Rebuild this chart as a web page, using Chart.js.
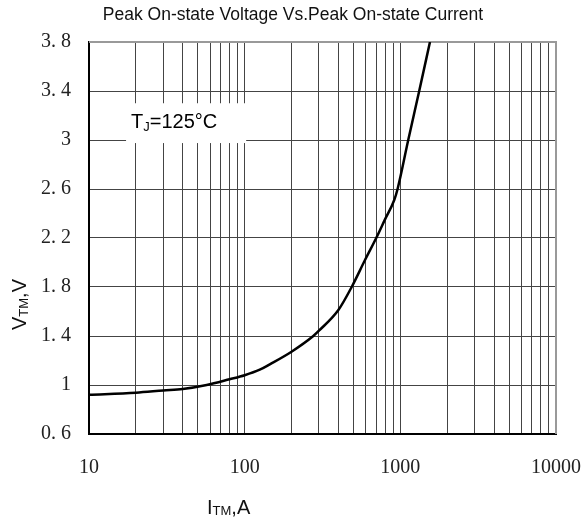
<!DOCTYPE html>
<html>
<head>
<meta charset="utf-8">
<title>Peak On-state Voltage Vs.Peak On-state Current</title>
<script src="https://cdn.jsdelivr.net/npm/chart.js@4.4.1/dist/chart.umd.min.js"></script>
<style>
  html, body { margin: 0; padding: 0; background: #fff; }
  #wrap { width: 586px; height: 517px; position: relative; }
</style>
</head>
<body>
<div id="wrap"><canvas id="myChart"></canvas></div>
<script>
// curve: peak on-state current (A) vs peak on-state voltage (V)
const current = [10, 20, 30, 40, 57, 80, 100, 125, 145, 200, 276, 300, 400, 487, 593, 700, 796, 914, 960, 1124, 1322, 1550];
const voltage = [0.92, 0.937, 0.955, 0.967, 1.0, 1.047, 1.08, 1.125, 1.169, 1.272, 1.4, 1.443, 1.612, 1.8, 2.02, 2.2, 2.35, 2.51, 2.6, 3.0, 3.4, 3.8];

// axis ticks
const xTickLabels = [10, 100, 1000, 10000];
const yTickValues = [0.6, 1, 1.4, 1.8, 2.2, 2.6, 3, 3.4, 3.8];
const yTickLabels = ['0. 6', '1', '1. 4', '1. 8', '2. 2', '2. 6', '3', '3. 4', '3. 8'];

const titleText = 'Peak On-state Voltage Vs.Peak On-state Current';
const tempLabel = ['T', 'J', '=125°C'];
const yTitle = ['V', 'TM', ',V'];
const xTitle = ['I', 'TM', ',A'];

const SANS = '"Liberation Sans", Arial, sans-serif';
const SERIF = '"Liberation Serif", "Times New Roman", serif';

// draws "main + subscript + rest" starting at (0,0) of current transform
function subText(ctx, parts, size, subSize, subDrop) {
  ctx.textBaseline = 'alphabetic';
  ctx.textAlign = 'left';
  ctx.font = size + 'px ' + SANS;
  ctx.fillText(parts[0], 0, 0);
  let w = ctx.measureText(parts[0]).width;
  ctx.font = subSize + 'px ' + SANS;
  ctx.fillText(parts[1], w, subDrop);
  w += ctx.measureText(parts[1]).width;
  ctx.font = size + 'px ' + SANS;
  ctx.fillText(parts[2], w, 0);
}

const extras = {
  id: 'extras',
  beforeDatasetsDraw(chart) {
    const {ctx, chartArea: a, scales: {x, y}} = chart;
    ctx.save();
    // top and right frame in grey
    ctx.strokeStyle = '#999';
    ctx.lineWidth = 2;
    ctx.beginPath();
    ctx.moveTo(a.left, a.top);
    ctx.lineTo(a.right, a.top);
    ctx.lineTo(a.right, a.bottom);
    ctx.stroke();
    // white box behind the temperature note
    const bx1 = x.getPixelForValue(17.3), bx2 = x.getPixelForValue(100) + 1.5;
    const by1 = y.getPixelForValue(3.3), by2 = y.getPixelForValue(2.975);
    ctx.fillStyle = '#fff';
    ctx.fillRect(bx1, by1, bx2 - bx1, by2 - by1);
    ctx.fillStyle = '#000';
    ctx.translate(bx1 + 5, y.getPixelForValue(3.095));
    subText(ctx, tempLabel, 20, 13, 3);
    ctx.restore();
  },
  afterDraw(chart) {
    const {ctx, width} = chart;
    ctx.save();
    ctx.fillStyle = '#111';
    ctx.font = '17.5px ' + SANS;
    ctx.textAlign = 'center';
    ctx.textBaseline = 'middle';
    ctx.fillText(titleText, width / 2, 15);

    // y axis title, rotated
    ctx.save();
    ctx.translate(26, 330);
    ctx.rotate(-Math.PI / 2);
    subText(ctx, yTitle, 20, 13, 2);
    ctx.restore();

    // x axis title
    ctx.save();
    ctx.translate(207, 514);
    subText(ctx, xTitle, 20, 13, 1);
    ctx.restore();
    ctx.restore();
  }
};

const data = {
  datasets: [{
    label: 'VTM',
    data: current.map((c, i) => ({x: c, y: voltage[i]})),
    borderColor: '#000',
    borderWidth: 2.5,
    pointRadius: 0,
    fill: false,
    cubicInterpolationMode: 'monotone'
  }]
};

const config = {
  type: 'line',
  data: data,
  options: {
    responsive: true,
    maintainAspectRatio: false,
    animation: false,
    layout: { padding: { top: 42, right: 30, bottom: 0, left: 0 } },
    plugins: {
      legend: { display: false },
      title: { display: false },
      tooltip: { enabled: false }
    },
    scales: {
      x: {
        type: 'logarithmic',
        min: 10,
        max: 10000,
        afterBuildTicks: (scale) => {
          // gridlines at 1..9 of every decade
          const t = [];
          for (let d = 10; d < 10000; d *= 10) {
            for (let k = 1; k < 10; k++) t.push({value: d * k});
          }
          t.push({value: 10000});
          scale.ticks = t;
        },
        afterFit: (scale) => {
          scale.height = 83;
          scale.paddingLeft = 0;
          scale.paddingRight = 0;
        },
        grid: { color: '#444', lineWidth: 1, drawTicks: false },
        border: { color: '#000', width: 2 },
        ticks: {
          autoSkip: false,
          maxRotation: 0,
          padding: 22,
          color: '#222',
          font: { family: SERIF, size: 20 },
          callback: (v) => xTickLabels.includes(v) ? String(v) : ''
        }
      },
      y: {
        type: 'linear',
        min: 0.6,
        max: 3.8,
        afterBuildTicks: (scale) => {
          scale.ticks = yTickValues.map(v => ({value: v}));
        },
        afterFit: (scale) => {
          scale.width = 89;
          scale.paddingTop = 0;
          scale.paddingBottom = 0;
        },
        grid: { color: '#444', lineWidth: 1, drawTicks: false },
        border: { color: '#000', width: 2 },
        ticks: {
          padding: 18,
          color: '#222',
          font: { family: SERIF, size: 20 },
          callback: (v, i) => yTickLabels[i]
        }
      }
    }
  },
  plugins: [extras]
};

const myChart = new Chart(document.getElementById('myChart'), config);
</script>
</body>
</html>
